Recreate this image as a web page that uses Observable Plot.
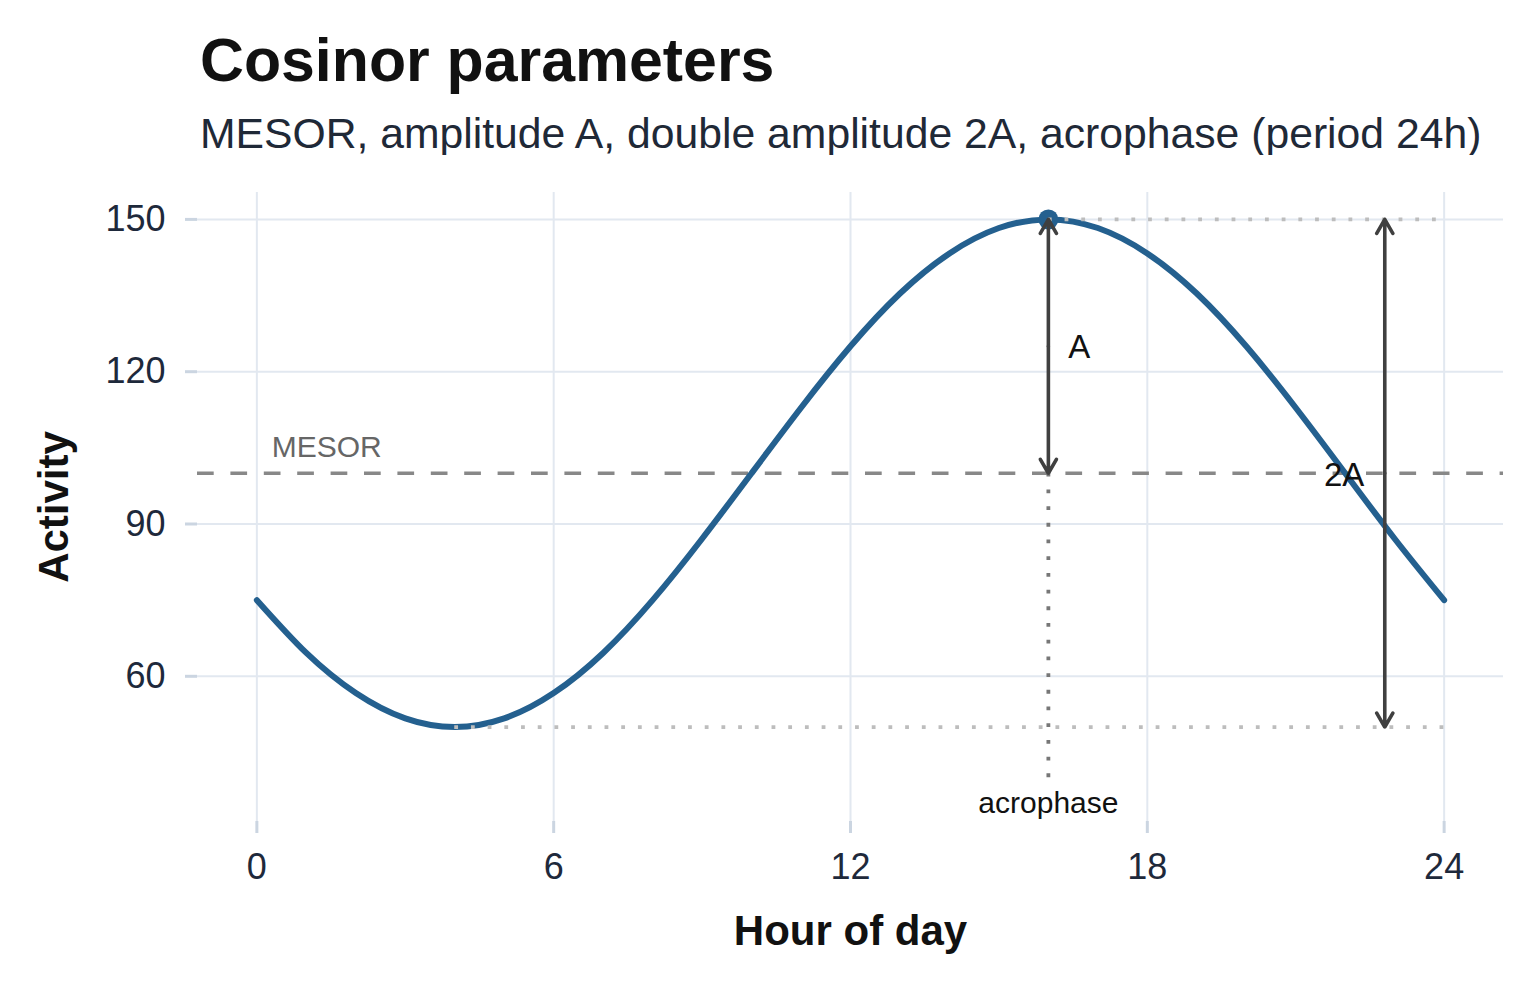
<!DOCTYPE html>
<html><head><meta charset="utf-8">
<script src="https://cdn.jsdelivr.net/npm/d3@7"></script>
<script src="https://cdn.jsdelivr.net/npm/@observablehq/plot@0.6"></script>
<style>
body{margin:0;background:#fff;font-family:"Liberation Sans",Arial,sans-serif;}
#wrap{width:1540px;height:990px;position:relative;overflow:hidden;background:#fff}
#title{position:absolute;left:200px;top:30px;font-size:60.8px;line-height:60px;font-weight:bold;color:#111;white-space:nowrap}
#subtitle{position:absolute;left:200px;top:112px;font-size:42.7px;line-height:43px;color:#1f2937;white-space:nowrap}
#chart{position:absolute;left:0;top:155px}
</style></head><body>
<div id="wrap">
<div id="title">Cosinor parameters</div>
<div id="subtitle">MESOR, amplitude A, double amplitude 2A, acrophase (period 24h)</div>
<div id="chart"></div>
</div>
<script>
// Hour of day and activity
const hours    = [0, 1, 2, 3, 4, 5, 6, 7, 8, 9, 10, 11, 12, 13, 14, 15, 16, 17, 18, 19, 20, 21, 22, 23, 24];
const activity = [75, 64.6, 56.7, 51.7, 50, 51.7, 56.7, 64.6, 75, 87.1, 100, 112.9, 125, 135.4, 143.3, 148.3, 150, 148.3, 143.3, 135.4, 125, 112.9, 100, 87.1, 75];

const xTicks = [0, 6, 12, 18, 24];
const yTicks = [60, 90, 120, 150];

const mesor = 100;
const peakValue = 150;
const troughValue = 50;
const acrophaseHour = 16;
const troughHour = 4;
const endHour = 24;
const doubleAmpHour = 22.8;
const acrophaseLineEnd = 39.5;

const labelNames = ["MESOR", "A", "2A", "acrophase"];
const labelX = [0.3, 16.4, 21.98, 16];
const labelY = [103.2, 124.8, 99.6, 35];

const curveColor = "#24608f";
const font = "'Liberation Sans', Arial, sans-serif";

const series = hours.map((h, i) => ({hour: h, value: activity[i]}));
const dottedH = [
  {y: peakValue, x1: acrophaseHour, x2: endHour},
  {y: troughValue, x1: troughHour, x2: endHour}
];
const ampArrows = [
  {x: acrophaseHour, y1: (peakValue + mesor) / 2, y2: peakValue},
  {x: acrophaseHour, y1: (peakValue + mesor) / 2, y2: mesor}
];
const dblArrows = [
  {x: doubleAmpHour, y1: mesor, y2: peakValue},
  {x: doubleAmpHour, y1: mesor, y2: troughValue}
];
const labels = labelNames.map((t, i) => ({text: t, x: labelX[i], y: labelY[i]}));

const chart = Plot.plot({
  width: 1540,
  height: 835,
  marginLeft: 197,
  marginRight: 37,
  marginTop: 37,
  marginBottom: 169,
  style: {fontFamily: font, background: "#fff", overflow: "visible"},
  x: {domain: [-1.2, 25.2], axis: null},
  y: {domain: [31.4, 155.3], axis: null},
  marks: [
    Plot.gridX(xTicks, {stroke: "#e2e8f0", strokeOpacity: 1, strokeWidth: 2}),
    Plot.gridY(yTicks, {stroke: "#e2e8f0", strokeOpacity: 1, strokeWidth: 2}),
    Plot.axisX({ticks: xTicks, tickSize: 12, tickPadding: 20, stroke: "#cbd5e1", strokeWidth: 3, fill: "#1e293b", fontSize: 36, label: null}),
    Plot.axisY({ticks: yTicks, tickSize: 12, tickPadding: 20, stroke: "#cbd5e1", strokeWidth: 3, fill: "#1e293b", fontSize: 36, label: null}),
    Plot.ruleY([mesor], {stroke: "#888", strokeWidth: 3.6, strokeDasharray: "16.7,16.7"}),
    Plot.line(series, {x: "hour", y: "value", curve: "natural", stroke: curveColor, strokeWidth: 6}),
    Plot.dot([{x: acrophaseHour, y: peakValue}], {x: "x", y: "y", r: 10, fill: curveColor, stroke: "none"}),
    Plot.ruleY(dottedH, {y: "y", x1: "x1", x2: "x2", stroke: "#bdbdbd", strokeWidth: 3.8, strokeDasharray: "3.8,12.9"}),
    Plot.ruleX([{x: acrophaseHour, y1: mesor, y2: acrophaseLineEnd}], {x: "x", y1: "y1", y2: "y2", stroke: "#777", strokeWidth: 3.8, strokeDasharray: "3.8,12.9"}),
    Plot.arrow(ampArrows, {x1: "x", x2: "x", y1: "y1", y2: "y2", stroke: "#404040", strokeWidth: 3.6, headLength: 6.7, headAngle: 60}),
    Plot.arrow(dblArrows, {x1: "x", x2: "x", y1: "y1", y2: "y2", stroke: "#404040", strokeWidth: 3.6, headLength: 6.7, headAngle: 60}),
    Plot.text(labels.filter(d => d.text === "MESOR"), {x: "x", y: "y", text: "text", textAnchor: "start", lineAnchor: "bottom", fill: "#666", fontSize: 30}),
    Plot.text(labels.filter(d => d.text === "A"), {x: "x", y: "y", text: "text", textAnchor: "start", lineAnchor: "middle", fill: "#111", fontSize: 33}),
    Plot.text(labels.filter(d => d.text === "2A"), {x: "x", y: "y", text: "text", textAnchor: "middle", lineAnchor: "middle", fill: "#111", fontSize: 33}),
    Plot.text(labels.filter(d => d.text === "acrophase"), {x: "x", y: "y", text: "text", textAnchor: "middle", lineAnchor: "middle", fill: "#111", fontSize: 30}),
    Plot.text(["Hour of day"], {frameAnchor: "bottom", dy: 110, lineAnchor: "middle", fontWeight: "bold", fontSize: 42, fill: "#111"}),
    Plot.text(["Activity"], {frameAnchor: "left", dx: -143, rotate: -90, textAnchor: "middle", lineAnchor: "middle", fontWeight: "bold", fontSize: 42, fill: "#111"})
  ]
});
document.getElementById("chart").appendChild(chart);
</script>
</body></html>
